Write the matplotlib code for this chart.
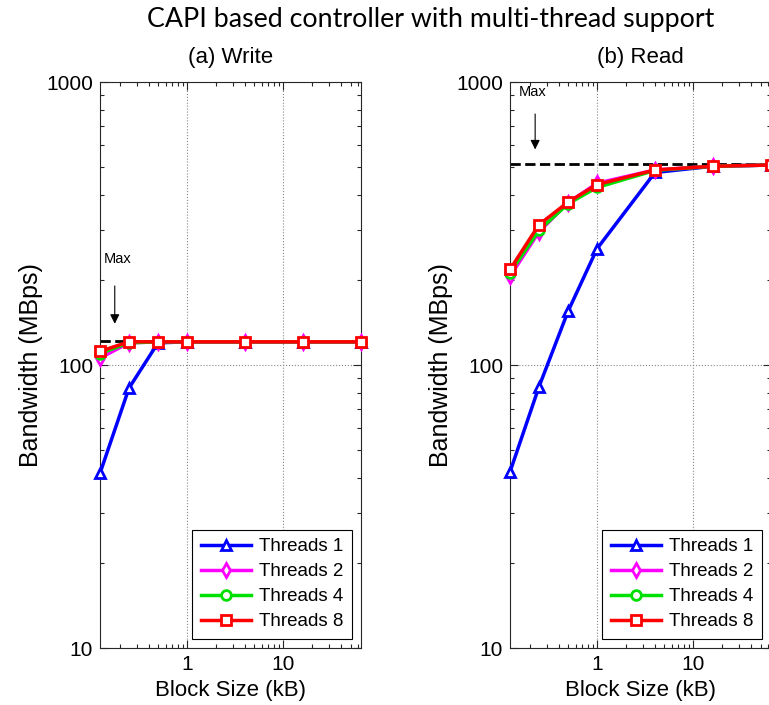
import numpy as np
import matplotlib.pyplot as plt
from matplotlib.ticker import LogLocator, NullFormatter, FixedLocator, FixedFormatter

plt.rcParams['font.family'] = ['Liberation Sans', 'DejaVu Sans']

# block sizes (kB)
block_kb = [0.125, 0.25, 0.5, 1, 4, 16, 64]

# write bandwidth (MBps)
write_t1 = [41.5, 83, 120, 121, 121, 121, 121]
write_t2 = [106, 120, 121, 121, 121, 121, 121]
write_t4 = [110, 120, 121, 121, 121, 121, 121]
write_t8 = [112, 121, 121, 121, 121, 121, 121]
write_max = 122

# read bandwidth (MBps)
read_t1 = [42, 84, 155, 258, 480, 505, 510]
read_t2 = [206, 296, 375, 440, 490, 505, 510]
read_t4 = [212, 300, 372, 425, 488, 505, 510]
read_t8 = [218, 314, 377, 435, 490, 505, 510]
read_max = 515

labels = ['Threads 1', 'Threads 2', 'Threads 4', 'Threads 8']
colors = ['#0000ff', '#ff00ff', '#00e000', '#ff0000']
markers = ['^', 'd', 'o', 's']

fig = plt.figure(figsize=(7.69, 7.05), dpi=100)
ax1 = fig.add_axes([0.130, 0.0805, 0.3394, 0.8028])
ax2 = fig.add_axes([0.6632, 0.0805, 0.3394, 0.8028])

def draw_panel(ax, series, maxval, title, txt_xy, arr_from, arr_to):
    ax.plot([block_kb[0], block_kb[-1]], [maxval, maxval], '--', color='black', lw=2, zorder=2)
    for ys, lab, c, m in zip(series, labels, colors, markers):
        ax.plot(block_kb, ys, color=c, marker=m, lw=2.5, ms=7, mfc='white', mec=c,
                mew=2, label=lab, zorder=3, clip_on=False)
    ax.set_xscale('log')
    ax.set_yscale('log')
    ax.set_xlim(0.125, 64)
    ax.set_ylim(10, 1000)
    ax.xaxis.set_major_locator(FixedLocator([1, 10]))
    ax.xaxis.set_major_formatter(FixedFormatter(['1', '10']))
    ax.xaxis.set_minor_locator(LogLocator(base=10, subs=np.arange(2, 10)))
    ax.xaxis.set_minor_formatter(NullFormatter())
    ax.yaxis.set_major_locator(FixedLocator([10, 100, 1000]))
    ax.yaxis.set_major_formatter(FixedFormatter(['10', '100', '1000']))
    ax.yaxis.set_minor_locator(LogLocator(base=10, subs=np.arange(2, 10)))
    ax.yaxis.set_minor_formatter(NullFormatter())
    ax.tick_params(which='both', direction='in', top=True, right=True, colors='#262626',
                   labelcolor='black', labelsize=15)
    ax.tick_params(which='major', length=6, width=0.8, pad=5)
    ax.tick_params(which='minor', length=3, width=0.8)
    ax.grid(True, which='major', linestyle=':', color='#888888', lw=0.8)
    for sp in ax.spines.values():
        sp.set_color('#262626')
    ax.set_xlabel('Block Size (kB)', fontsize=16, labelpad=4)
    ax.set_ylabel('Bandwidth (MBps)', fontsize=18, labelpad=2)
    ax.set_title(title, fontsize=16, pad=14)
    ax.text(txt_xy[0], txt_xy[1], 'Max', fontsize=10.5, ha='left', va='center')
    ax.annotate('', xy=arr_to, xytext=arr_from,
                arrowprops=dict(arrowstyle='-|>', color='black', lw=0.8,
                                mutation_scale=14))
    leg = ax.legend(loc='lower right', fontsize=13.5, fancybox=False, framealpha=1,
                    edgecolor='black', handlelength=2.7, borderaxespad=0.5,
                    labelspacing=0.42, borderpad=0.45, handletextpad=0.4)
    leg.get_frame().set_linewidth(0.8)
    leg.set_zorder(5)

draw_panel(ax1, [write_t1, write_t2, write_t4, write_t8], write_max, '(a) Write',
           (0.138, 237), (0.178, 195), (0.178, 137))
draw_panel(ax2, [read_t1, read_t2, read_t4, read_t8], read_max, '(b) Read',
           (0.155, 922), (0.228, 790), (0.228, 566))

fig.text(0.56, 0.973, 'CAPI based controller with multi-thread support',
         fontsize=19.3, family=['Lato', 'DejaVu Sans'], ha='center', va='center')

fig.savefig('out.png', dpi=100)
